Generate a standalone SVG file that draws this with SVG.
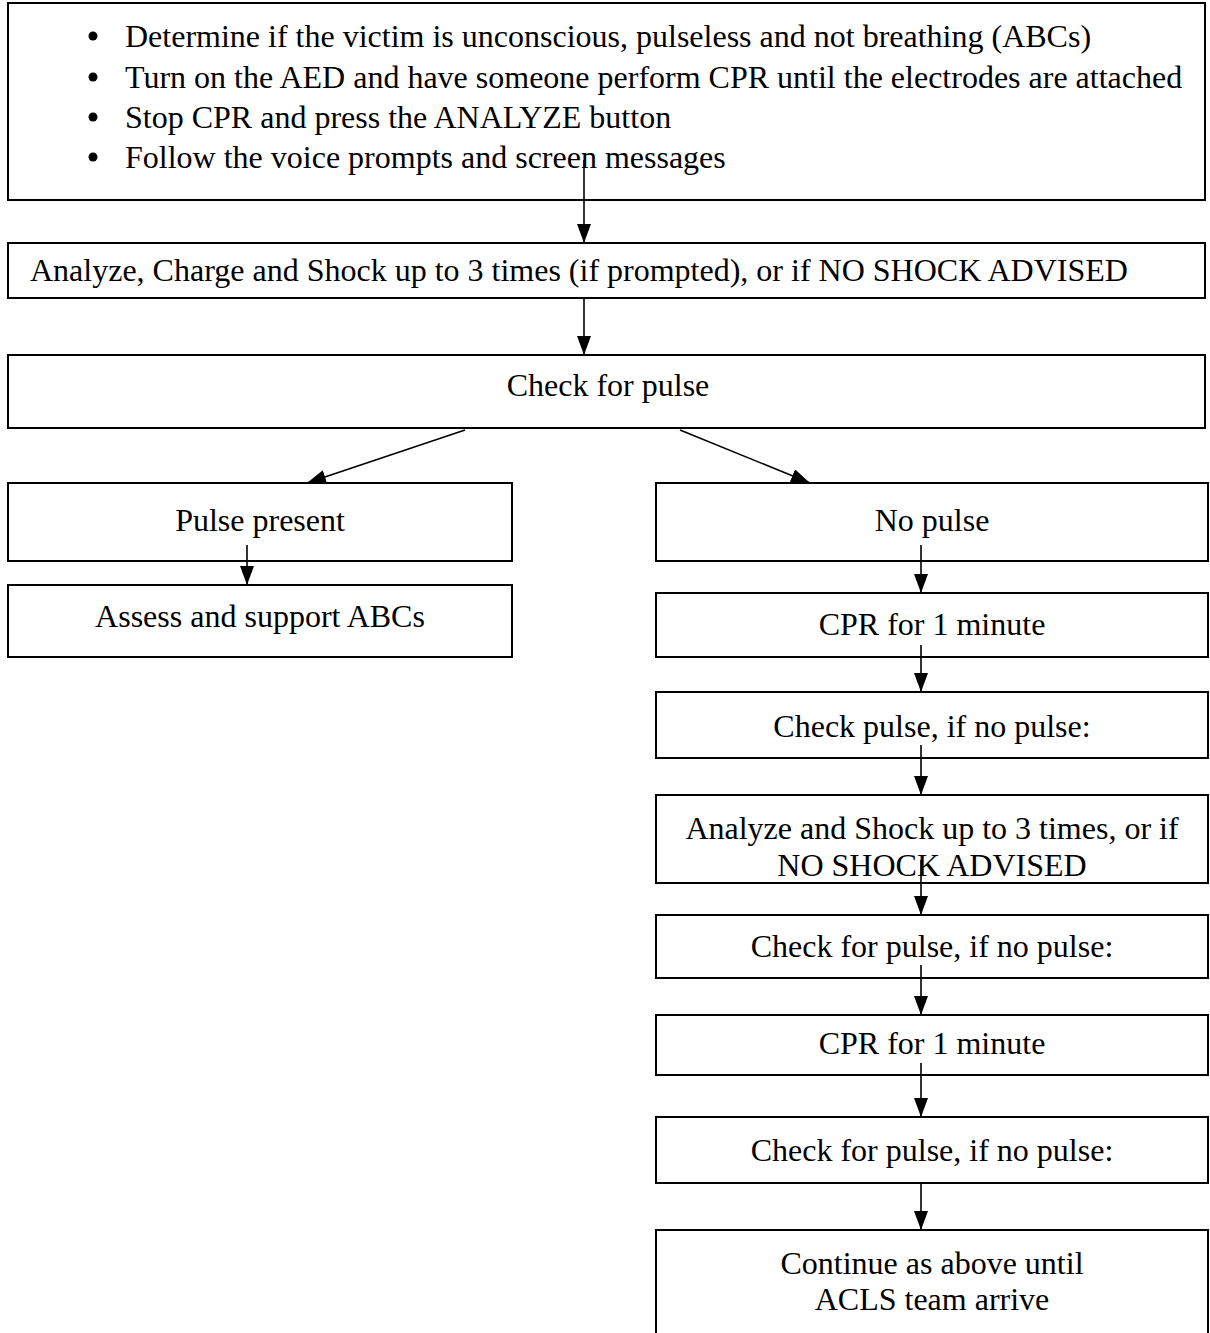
<svg xmlns="http://www.w3.org/2000/svg" width="1210" height="1333" viewBox="0 0 1210 1333">
<style>
.box{fill:#fff;stroke:#000;stroke-width:2}
.t{font-family:'Liberation Serif','Times New Roman',serif;font-size:32px;fill:#000}
.c{text-anchor:middle}
.e{stroke:#000;stroke-width:1.6;fill:none}
</style>
<defs>
<marker id="ah" viewBox="0 0 10 10" refX="10" refY="5" markerWidth="19" markerHeight="14" markerUnits="userSpaceOnUse" orient="auto" preserveAspectRatio="none">
<path d="M0,0 L10,5 L0,10 Z" fill="#000"/>
</marker>
<clipPath id="clipA"><rect x="656" y="795" width="552" height="82"/></clipPath>
</defs>
<rect width="1210" height="1333" fill="#fff"/>
<g id="n1">
<rect class="box" x="8" y="3" width="1197" height="197"/>
<circle cx="93" cy="36" r="4.5"/><text class="t" x="125" y="47">Determine if the victim is unconscious, pulseless and not breathing (ABCs)</text>
<circle cx="93" cy="77" r="4.5"/><text class="t" x="125" y="88">Turn on the AED and have someone perform CPR until the electrodes are attached</text>
<circle cx="93" cy="117" r="4.5"/><text class="t" x="125" y="128">Stop CPR and press the ANALYZE button</text>
<circle cx="93" cy="157" r="4.5"/><text class="t" x="125" y="168">Follow the voice prompts and screen messages</text>
</g>
<g id="n2">
<rect class="box" x="8" y="243" width="1197" height="55"/>
<text class="t" x="30" y="281">Analyze, Charge and Shock up to 3 times (if prompted), or if NO SHOCK ADVISED</text>
</g>
<g id="n3">
<rect class="box" x="8" y="355" width="1197" height="73"/>
<text class="t c" x="608" y="396">Check for pulse</text>
</g>
<g id="n4">
<rect class="box" x="8" y="483" width="504" height="78"/>
<text class="t c" x="260" y="531">Pulse present</text>
</g>
<g id="n5">
<rect class="box" x="8" y="585" width="504" height="72"/>
<text class="t c" x="260" y="627">Assess and support ABCs</text>
</g>
<g id="n6">
<rect class="box" x="656" y="483" width="552" height="78"/>
<text class="t c" x="932" y="531">No pulse</text>
</g>
<g id="n7">
<rect class="box" x="656" y="593" width="552" height="64"/>
<text class="t c" x="932" y="635">CPR for 1 minute</text>
</g>
<g id="n8">
<rect class="box" x="656" y="692" width="552" height="66"/>
<text class="t c" x="932" y="737">Check pulse, if no pulse:</text>
</g>
<g id="n9">
<rect class="box" x="656" y="795" width="552" height="88"/>
<g clip-path="url(#clipA)">
<text class="t c" x="932" y="839">Analyze and Shock up to 3 times, or if</text>
<text class="t c" x="932" y="876">NO SHOCK ADVISED</text>
</g>
</g>
<g id="n10">
<rect class="box" x="656" y="915" width="552" height="63"/>
<text class="t c" x="932" y="957">Check for pulse, if no pulse:</text>
</g>
<g id="n11">
<rect class="box" x="656" y="1015" width="552" height="60"/>
<text class="t c" x="932" y="1054">CPR for 1 minute</text>
</g>
<g id="n12">
<rect class="box" x="656" y="1117" width="552" height="66"/>
<text class="t c" x="932" y="1161">Check for pulse, if no pulse:</text>
</g>
<g id="n13">
<path class="box" d="M656,1340 L656,1230 L1208,1230 L1208,1340"/>
<text class="t c" x="932" y="1274">Continue as above until</text>
<text class="t c" x="932" y="1310">ACLS team arrive</text>
</g>
<g id="edges">
<line class="e" x1="584" y1="160" x2="584" y2="243" marker-end="url(#ah)"/>
<line class="e" x1="584" y1="298" x2="584" y2="355" marker-end="url(#ah)"/>
<line class="e" x1="465" y1="430" x2="307" y2="483" marker-end="url(#ah)"/>
<line class="e" x1="680" y1="430" x2="810" y2="483" marker-end="url(#ah)"/>
<line class="e" x1="247" y1="545" x2="247" y2="585" marker-end="url(#ah)"/>
<line class="e" x1="921" y1="545" x2="921" y2="593" marker-end="url(#ah)"/>
<line class="e" x1="921" y1="645" x2="921" y2="692" marker-end="url(#ah)"/>
<line class="e" x1="921" y1="745" x2="921" y2="795" marker-end="url(#ah)"/>
<line class="e" x1="921" y1="860" x2="921" y2="915" marker-end="url(#ah)"/>
<line class="e" x1="921" y1="965" x2="921" y2="1015" marker-end="url(#ah)"/>
<line class="e" x1="921" y1="1063" x2="921" y2="1117" marker-end="url(#ah)"/>
<line class="e" x1="921" y1="1183" x2="921" y2="1230" marker-end="url(#ah)"/>
</g>
</svg>
